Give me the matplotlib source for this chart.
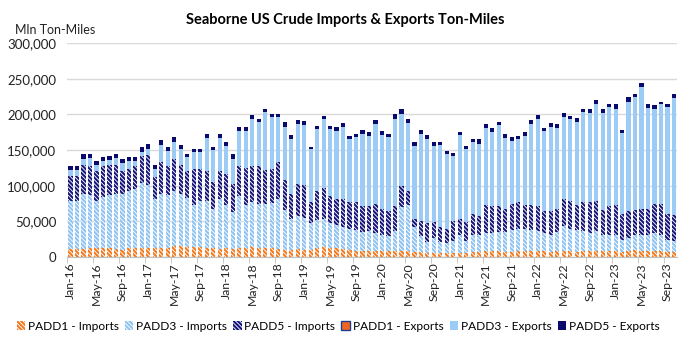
import numpy as np
import pandas as pd
import matplotlib
matplotlib.use('Agg')
import matplotlib.pyplot as plt
from matplotlib.patches import Patch
from matplotlib.ticker import FuncFormatter, FixedLocator

# monthly categories Jan-16 .. Oct-23
months = pd.date_range('2016-01-01', '2023-10-01', freq='MS')
month_labels = [d.strftime('%b-%y') for d in months]

# values in thousand mln ton-miles
padd1_imports = [11, 11, 11, 13, 12, 13, 12, 11, 10, 12, 12, 12,
                 12, 12, 13, 12, 16, 16, 14, 14, 14, 12, 12, 11,
                 12, 11, 13, 13, 14, 12, 13, 12, 11, 10, 10, 11,
                 10, 10, 13, 14, 12, 12, 11, 10, 9, 8, 8, 8,
                 8, 8, 8, 8, 8, 7, 7, 5, 6, 5, 5, 6,
                 6, 5, 7, 7, 9, 8, 8, 7, 7, 8, 8, 8,
                 9, 8, 7, 8, 8, 8, 7, 8, 8, 8, 8, 8,
                 8, 7, 9, 10, 9, 9, 8, 8, 7, 7]
padd3_imports = [67, 67, 77, 74, 66, 71, 75, 77, 78, 80, 83, 92,
                 89, 70, 76, 75, 76, 73, 69, 59, 64, 66, 55, 70,
                 61, 52, 73, 60, 63, 63, 62, 64, 71, 56, 43, 47,
                 45, 38, 39, 39, 36, 33, 31, 30, 29, 27, 28, 25,
                 23, 21, 28, 62, 65, 35, 22, 16, 20, 16, 14, 16,
                 25, 17, 24, 24, 24, 26, 27, 28, 31, 32, 32, 30,
                 27, 26, 24, 27, 35, 32, 31, 28, 25, 28, 23, 23,
                 23, 17, 17, 21, 22, 22, 25, 23, 17, 15]
padd5_imports = [35, 35, 41, 41, 43, 43, 42, 41, 33, 32, 33, 38,
                 42, 30, 44, 40, 45, 40, 38, 50, 45, 42, 38, 40,
                 44, 39, 41, 52, 51, 52, 47, 47, 51, 42, 36, 44,
                 46, 29, 40, 44, 37, 37, 39, 37, 39, 37, 35, 41,
                 37, 35, 35, 30, 20, 11, 22, 27, 23, 21, 21, 28,
                 23, 27, 30, 27, 40, 37, 36, 33, 36, 37, 33, 35,
                 36, 30, 33, 33, 38, 39, 35, 41, 44, 42, 35, 40,
                 42, 37, 38, 35, 37, 37, 42, 43, 37, 37]
padd1_exports = [0] * 94
padd3_exports = [9, 9, 9, 11, 8, 7, 7, 10, 11, 11, 7, 6,
                 8, 11, 24, 22, 24, 23, 19, 25, 25, 47, 45, 46,
                 39, 36, 50, 52, 65, 62, 81, 73, 63, 75, 77, 84,
                 84, 74, 87, 96, 94, 95, 102, 88, 91, 101, 99, 112,
                 103, 104, 123, 101, 95, 103, 121, 118, 107, 115, 104, 91,
                 117, 103, 100, 101, 108, 105, 114, 99, 89, 88, 97, 114,
                 122, 113, 119, 113, 116, 114, 117, 126, 125, 137, 136, 139,
                 135, 113, 154, 158, 171, 141, 133, 140, 150, 164]
padd5_exports = [5, 5, 6, 6, 6, 6, 5, 5, 5, 5, 5, 6,
                 7, 6, 7, 5, 7, 5, 5, 4, 4, 5, 5, 5,
                 6, 6, 6, 6, 6, 5, 5, 5, 5, 6, 5, 6,
                 6, 4, 5, 5, 5, 5, 5, 5, 5, 5, 5, 6,
                 6, 4, 6, 6, 6, 5, 6, 5, 5, 5, 5, 5,
                 5, 4, 5, 6, 5, 5, 4, 5, 5, 5, 5, 5,
                 5, 4, 5, 5, 5, 5, 5, 5, 5, 5, 5, 5,
                 6, 4, 6, 5, 5, 6, 5, 4, 4, 5]

HATCH = '\\' * 8
series = [
    ('PADD1 - Imports', padd1_imports, '#F47A20', HATCH),
    ('PADD3 - Imports', padd3_imports, '#8EC3F2', HATCH),
    ('PADD5 - Imports', padd5_imports, '#15157A', HATCH),
    ('PADD1 - Exports', padd1_exports, '#F26522', None),
    ('PADD3 - Exports', padd3_exports, '#9CCBF5', None),
    ('PADD5 - Exports', padd5_exports, '#0A0A6E', None),
]

plt.rcParams['font.family'] = ['Lato', 'DejaVu Sans']
plt.rcParams['hatch.linewidth'] = 1.5

fig = plt.figure(figsize=(6.9, 3.45), dpi=100)
ax = fig.add_axes([0.0975, 0.255, 0.884, 0.62])

x = np.arange(len(months))
bottom = np.zeros(len(months))
handles = []
for name, vals, col, hatch in series:
    v = np.array(vals, dtype=float) * 1000
    if hatch:
        ax.bar(x, v, 0.64, bottom=bottom, facecolor='white', edgecolor=col,
               hatch=hatch, linewidth=0, zorder=2)
        handles.append(Patch(facecolor='white', edgecolor=col, hatch=HATCH, linewidth=0))
    else:
        ax.bar(x, v, 0.64, bottom=bottom, color=col, linewidth=0, zorder=2)
        if name == 'PADD1 - Exports':
            handles.append(Patch(facecolor=col, edgecolor='#1F3F8F', linewidth=1))
        else:
            handles.append(Patch(facecolor=col, linewidth=0))
    bottom += v

ax.set_xlim(-0.5, len(months) - 0.5)
ax.set_ylim(0, 300000)
ax.set_yticks(np.arange(0, 300001, 50000))
ax.yaxis.set_major_formatter(FuncFormatter(lambda v, p: f'{int(v):,}'))
ax.grid(axis='y', color='#d9d9d9', linewidth=1, zorder=0)
for s in ['top', 'right', 'left']:
    ax.spines[s].set_visible(False)
ax.spines['bottom'].set_color('#bfbfbf')
ax.tick_params(axis='y', length=0, labelsize=9.5, pad=8, colors='#222222')

# labels every 4 months at bar centres, tick marks at category boundaries
ax.set_xticks(x[::4])
ax.set_xticklabels(month_labels[::4], rotation=90, fontsize=8.8, color='#222222')
ax.tick_params(axis='x', length=0, pad=4)
ax.xaxis.set_minor_locator(FixedLocator(np.arange(-0.5, len(months), 4)))
ax.tick_params(axis='x', which='minor', length=4, color='#bfbfbf')

fig.text(0.5, 0.942, 'Seaborne US Crude Imports & Exports Ton-Miles',
         ha='center', va='center', fontsize=10.5, fontweight='bold')
fig.text(0.022, 0.913, 'Mln Ton-Miles', ha='left', va='center', fontsize=9, color='#222222')

fig.legend(handles, [s[0] for s in series], loc='center', bbox_to_anchor=(0.49, 0.055),
           ncol=6, frameon=False, fontsize=8.6, handlelength=0.7, handleheight=0.7,
           handletextpad=0.25, columnspacing=0.5, borderaxespad=0)

fig.savefig('out.png', dpi=100)
